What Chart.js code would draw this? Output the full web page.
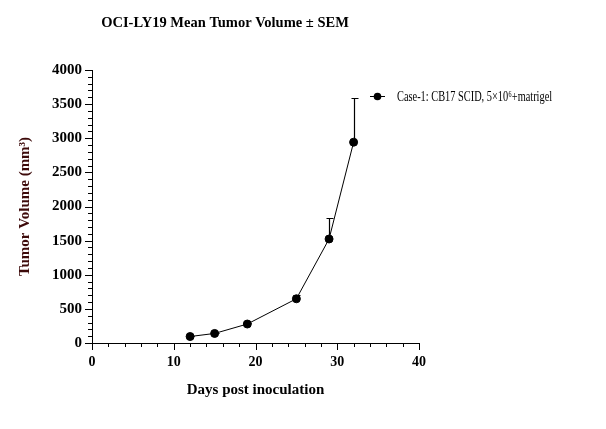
<!DOCTYPE html>
<html>
<head>
<meta charset="utf-8">
<script src="https://cdn.jsdelivr.net/npm/chart.js@4.4.0/dist/chart.umd.min.js"></script>
<style>
html,body{margin:0;padding:0;background:#fff;}
#wrap{width:606px;height:429px;position:relative;}
</style>
</head>
<body>
<div id="wrap"><canvas id="c" width="606" height="429"></canvas></div>
<script>
const days = [12, 15, 19, 25, 29, 32];
const meanVolume = [95, 140, 278, 648, 1524, 2942];
const semVolume = [10, 12, 15, 50, 307, 648];
const xTicks = [0, 10, 20, 30, 40];
const yTicks = [0, 500, 1000, 1500, 2000, 2500, 3000, 3500, 4000];
const seriesLabel = 'Case-1: CB17 SCID, 5\u00d710\u2076+matrigel';
const chartTitle = 'OCI-LY19 Mean Tumor Volume \u00b1 SEM';
const xTitle = 'Days post inoculation';
const yTitle = 'Tumor Volume (mm\u00b3)';

const serif = "'Liberation Serif','Times New Roman',serif";

const extras = {
  id: 'extras',
  afterDatasetsDraw(chart) {
    const ctx = chart.ctx;
    const xs = chart.scales.x, ys = chart.scales.y;
    const ca = chart.chartArea;
    ctx.save();
    // error bars (upper only)
    ctx.strokeStyle = '#000';
    ctx.lineWidth = 1.2;
    days.forEach((d, i) => {
      const px = Math.round(xs.getPixelForValue(d)) + 0.5;
      const y0 = ys.getPixelForValue(meanVolume[i]);
      const y1 = Math.round(ys.getPixelForValue(meanVolume[i] + semVolume[i])) + 0.5;
      ctx.beginPath();
      ctx.moveTo(px, y0); ctx.lineTo(px, y1);
      ctx.moveTo(px - 3, y1); ctx.lineTo(px + 4, y1);
      ctx.stroke();
    });
    // axis ticks
    ctx.lineWidth = 1;
    for (let v = 0; v <= 40; v += 2) {
      const px = Math.round(xs.getPixelForValue(v)) + 0.5;
      const len = (v % 10 === 0) ? 7 : 4;
      ctx.beginPath(); ctx.moveTo(px, ca.bottom); ctx.lineTo(px, ca.bottom + len); ctx.stroke();
    }
    for (let v = 0; v <= 4000; v += 100) {
      const py = Math.round(ys.getPixelForValue(v)) + 0.5;
      const len = (v % 500 === 0) ? 7 : 4;
      ctx.beginPath(); ctx.moveTo(ca.left, py); ctx.lineTo(ca.left - len, py); ctx.stroke();
    }
    // legend
    const lx = 370, ly = 96;
    ctx.beginPath(); ctx.moveTo(lx, ly + 0.5); ctx.lineTo(lx + 15, ly + 0.5); ctx.stroke();
    ctx.beginPath(); ctx.arc(lx + 7.5, ly + 0.5, 3.8, 0, Math.PI * 2); ctx.fillStyle = '#000'; ctx.fill();
    ctx.font = "14px " + serif;
    ctx.textBaseline = 'middle';
    ctx.textAlign = 'left';
    ctx.save();
    ctx.translate(lx + 27, ly + 1);
    ctx.scale(0.74, 1);
    ctx.fillText(seriesLabel, 0, 0);
    ctx.restore();
    // title
    ctx.font = "bold 14.5px " + serif;
    ctx.textAlign = 'center';
    ctx.fillText(chartTitle, 225, 23);
    ctx.restore();
  }
};

new Chart(document.getElementById('c'), {
  type: 'line',
  data: {
    datasets: [{
      label: seriesLabel,
      data: days.map((d, i) => ({x: d, y: meanVolume[i]})),
      borderColor: '#000',
      backgroundColor: '#000',
      borderWidth: 1,
      pointRadius: 4,
      pointBackgroundColor: '#000',
      pointBorderColor: '#000',
      tension: 0
    }]
  },
  plugins: [extras],
  options: {
    responsive: false,
    animation: false,
    devicePixelRatio: 1,
    layout: {padding: {left: 0, right: 187, top: 70, bottom: 0}},
    plugins: {legend: {display: false}, tooltip: {enabled: false}, title: {display: false}},
    scales: {
      x: {
        type: 'linear', min: 0, max: 40,
        afterFit(s) { s.height = 86; },
        afterBuildTicks(s) { s.ticks = xTicks.map(v => ({value: v})); },
        grid: {display: false, drawTicks: false},
        border: {display: true, color: '#000', width: 1},
        ticks: {color: '#000', padding: 11, font: {family: serif, size: 14, weight: 'bold'}, maxRotation: 0,
                callback: v => String(v)},
        title: {display: true, text: xTitle, color: '#000', font: {family: serif, size: 15, weight: 'bold'}, padding: {top: 0, bottom: 30}}
      },
      y: {
        type: 'linear', min: 0, max: 4000,
        afterFit(s) { s.width = 92; },
        afterBuildTicks(s) { s.ticks = yTicks.map(v => ({value: v})); },
        grid: {display: false, drawTicks: false},
        border: {display: true, color: '#000', width: 1},
        ticks: {color: '#000', padding: 10, font: {family: serif, size: 15, weight: 'bold'},
                callback: v => String(v)},
        title: {display: true, text: yTitle, color: '#3d0a0a', font: {family: serif, size: 15, weight: 'bold'}, padding: {top: 16, bottom: 0}}
      }
    }
  }
});
</script>
</body>
</html>
